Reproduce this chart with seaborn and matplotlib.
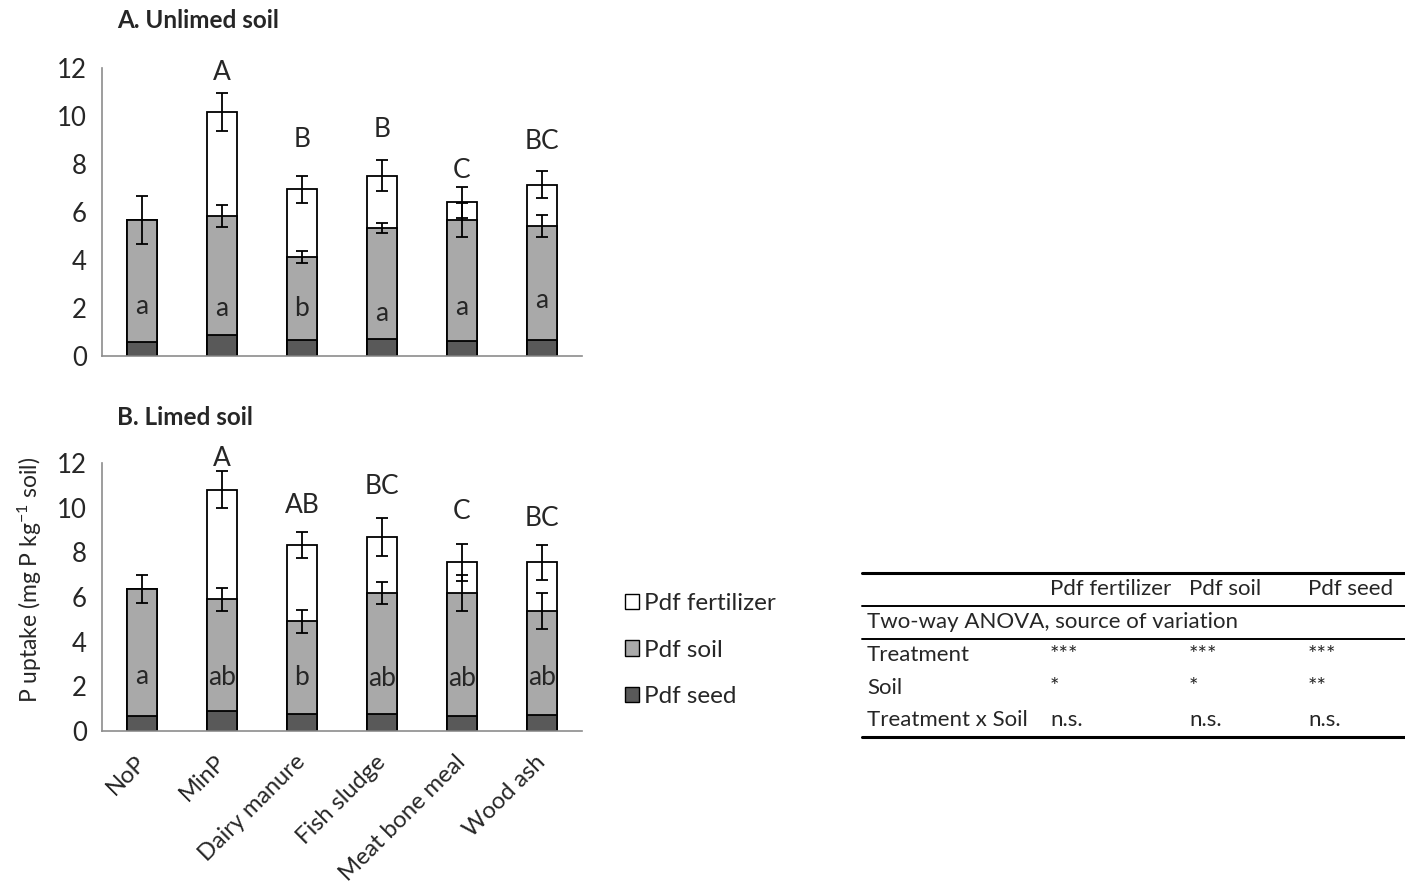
import numpy as np
import matplotlib
matplotlib.use("Agg")
import matplotlib.pyplot as plt
import matplotlib.patches as mpatches
from matplotlib.lines import Line2D
import seaborn as sns

# data
treatments = ["NoP", "MinP", "Dairy manure", "Fish sludge", "Meat bone meal", "Wood ash"]

# A. Unlimed soil (mg P / kg soil)
a_seed = [0.58, 0.86, 0.67, 0.71, 0.63, 0.67]
a_soil = [5.09, 4.98, 3.46, 4.62, 5.04, 4.75]
a_fert = [0.00, 4.33, 2.81, 2.19, 0.73, 1.71]
a_soil_err = [1.00, 0.47, 0.26, 0.22, 0.70, 0.47]
a_total_err = [np.nan, 0.80, 0.56, 0.65, 0.65, 0.56]
a_upper = ["", "A", "B", "B", "C", "BC"]
a_upper_y = [np.nan, 11.8, 9.04, 9.42, 7.71, 8.92]
a_lower = ["a", "a", "b", "a", "a", "a"]
a_lower_y = [2.08, 2.0, 1.96, 1.79, 2.04, 2.33]

# B. Limed soil
b_seed = [0.66, 0.90, 0.75, 0.78, 0.69, 0.72]
b_soil = [5.71, 5.00, 4.16, 5.40, 5.49, 4.67]
b_fert = [0.00, 4.91, 3.42, 2.51, 1.37, 2.16]
b_soil_err = [0.63, 0.52, 0.50, 0.48, 0.80, 0.81]
b_total_err = [np.nan, 0.83, 0.58, 0.84, 0.84, 0.78]
b_upper = ["", "A", "AB", "BC", "C", "BC"]
b_upper_y = [np.nan, 12.2, 10.1, 10.96, 9.84, 9.53]
b_lower = ["a", "ab", "b", "ab", "ab", "ab"]
b_lower_y = [2.43, 2.38, 2.38, 2.33, 2.36, 2.38]

# ANOVA table
table_cols = ["Pdf fertilizer", "Pdf soil", "Pdf seed"]
table_section = "Two-way ANOVA, source of variation"
table_rows = ["Treatment", "Soil", "Treatment x Soil"]
table_vals = [["***", "***", "***"],
              ["*", "*", "**"],
              ["n.s.", "n.s.", "n.s."]]

c_fert = "#ffffff"
c_soil = "#a9a9a9"
c_seed = "#595959"
spine_c = "#8c8c8c"

sns.set_style("white")
plt.rcParams['font.family'] = ['Lato', 'DejaVu Sans']
plt.rcParams['mathtext.fontset'] = 'custom'
plt.rcParams['mathtext.rm'] = 'Lato'
plt.rcParams['mathtext.default'] = 'regular'

fig = plt.figure(figsize=(14.05, 8.93), dpi=100)
ax_a = fig.add_axes([0.0726, 0.6013, 0.3416, 0.3226])
ax_b = fig.add_axes([0.0726, 0.1814, 0.3416, 0.3001])


def draw_panel(ax, seed, soil, fert, soil_err, total_err, upper, upper_y, lower, lower_y, labels):
    seed = np.array(seed)
    soil_top = seed + np.array(soil)
    total = soil_top + np.array(fert)
    x = np.arange(len(treatments))
    for vals, col in [(total, c_fert), (soil_top, c_soil), (seed, c_seed)]:
        sns.barplot(x=treatments, y=vals, color=col, saturation=1, width=0.38,
                    edgecolor="black", linewidth=1.3, ax=ax, zorder=2)
    ax.errorbar(x, soil_top, yerr=soil_err, fmt="none", ecolor="black",
                elinewidth=1.3, capsize=4.5, capthick=1.3, zorder=5)
    ax.errorbar(x, total, yerr=total_err, fmt="none", ecolor="black",
                elinewidth=1.3, capsize=4.5, capthick=1.3, zorder=5)
    for i in x:
        if upper[i]:
            ax.text(i, upper_y[i], upper[i], ha="center", va="center", fontsize=19)
        ax.text(i, lower_y[i], lower[i], ha="center", va="center", fontsize=19)

    ax.set_ylim(0, 12)
    ax.set_xlim(-0.5, 5.5)
    ax.set_yticks(range(0, 13, 2))
    ax.set_xticks(np.arange(-0.5, 6.0, 1.0))
    ax.set_xticklabels([])
    ax.set_xticks(x, minor=True)
    if labels:
        ax.set_xticklabels(treatments, minor=True, rotation=45, ha="right",
                           va="center", rotation_mode="anchor", fontsize=17)
    else:
        ax.set_xticklabels([], minor=True)
    ax.tick_params(axis="x", which="major", direction="out", length=6,
                   color=spine_c, width=1)
    ax.tick_params(axis="x", which="minor", length=0, pad=20)
    ax.tick_params(axis="y", direction="out", length=5, color=spine_c,
                   width=1, labelsize=18.5, pad=6)
    ax.set_xlabel("")
    ax.set_ylabel("")
    for s in ["top", "right"]:
        ax.spines[s].set_visible(False)
    for s in ["left", "bottom"]:
        ax.spines[s].set_color(spine_c)
        ax.spines[s].set_linewidth(1.2)
    for lab in ax.get_xticklabels(minor=True):
        lab.set_x(lab.get_position()[0] + 0.06)


draw_panel(ax_a, a_seed, a_soil, a_fert, a_soil_err, a_total_err,
           a_upper, a_upper_y, a_lower, a_lower_y, labels=False)
draw_panel(ax_b, b_seed, b_soil, b_fert, b_soil_err, b_total_err,
           b_upper, b_upper_y, b_lower, b_lower_y, labels=True)

fig.text(0.0833, 0.9765, "A. Unlimed soil", fontsize=17.5, fontweight="bold", va="center")
fig.text(0.0833, 0.532, "B. Limed soil", fontsize=17.5, fontweight="bold", va="center")
fig.text(0.0214, 0.35, "P uptake (mg P kg$^{-1}$ soil)", fontsize=16.5,
         rotation=90, ha="center", va="center")

# legend
handles = [mpatches.Patch(facecolor=c, edgecolor="black", linewidth=1) for c in (c_fert, c_soil, c_seed)]
fig.legend(handles, ["Pdf fertilizer", "Pdf soil", "Pdf seed"], loc="center left",
           bbox_to_anchor=(0.429, 0.272), frameon=False, fontsize=17.5,
           handlelength=0.6, handleheight=0.6, handletextpad=0.2, labelspacing=1.05)

# ANOVA table
x0, x1 = 862 / 1405, 1.0
for ypx, lw in [(573, 2.2), (606, 1.4), (639, 1.4), (737, 2.2)]:
    yy = 1 - ypx / 893
    fig.add_artist(Line2D([x0, x1], [yy, yy], color="black", lw=lw))
col_x = [1050 / 1405, 1189 / 1405, 1308 / 1405]
lab_x = 867 / 1405
for cx, name in zip(col_x, table_cols):
    fig.text(cx, 1 - 589 / 893, name, fontsize=16, va="center")
fig.text(lab_x, 1 - 622 / 893, table_section, fontsize=16, va="center")
for r, (name, vals) in enumerate(zip(table_rows, table_vals)):
    yy = 1 - (655 + 32.5 * r) / 893
    fig.text(lab_x, yy, name, fontsize=16, va="center")
    for cx, v in zip(col_x, vals):
        fig.text(cx, yy, v, fontsize=16, va="center")

fig.savefig("out.png", dpi=100)
